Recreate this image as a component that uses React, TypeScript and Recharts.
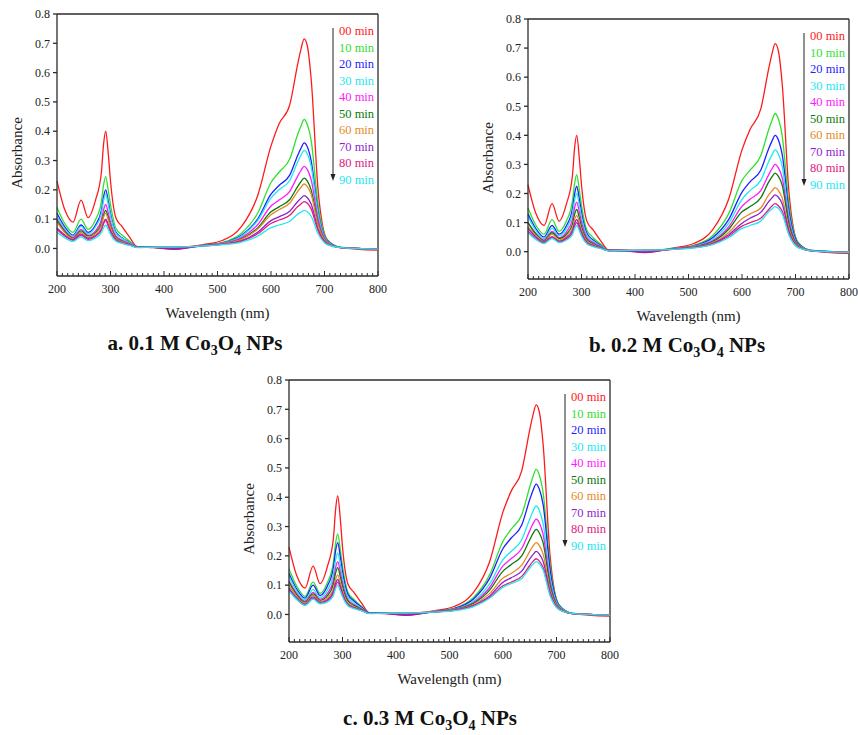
import React from 'react';
import { LineChart, Line, XAxis, YAxis, ReferenceLine } from 'recharts';

const FONT = '"Liberation Serif", "Times New Roman", serif';
const AXIS = '#2b2b2b';

const wavelengths = [200, 215, 230, 245, 258, 272, 283, 287, 291, 296, 300, 310, 322, 335, 350, 380, 420, 470, 510, 545, 575, 600, 615, 635, 650, 656, 662, 668, 675, 688, 705, 730, 800];

const timeLabels = ['00 min', '10 min', '20 min', '30 min', '40 min', '50 min', '60 min', '70 min', '80 min', '90 min'];
const colors = ['#ff1a1a', '#2fe02f', '#1f1fff', '#1ee8f0', '#ff1aff', '#0a7a0a', '#e58a25', '#8f1fd0', '#e0207f', '#26e6f2'];

const yTicks = [0, 0.1, 0.2, 0.3, 0.4, 0.5, 0.6, 0.7, 0.8];
const xTicks = Array.from({ length: 61 }, (_, i) => 200 + i * 10);

// 0.1 M
const seriesA: number[][] = [
  [0.23, 0.13, 0.09, 0.165, 0.105, 0.165, 0.26, 0.355, 0.40, 0.32, 0.23, 0.105, 0.074, 0.04, 0.006, 0.003, -0.003, 0.012, 0.028, 0.075, 0.18, 0.35, 0.425, 0.49, 0.63, 0.68, 0.715, 0.69, 0.58, 0.20, 0.03, 0.003, -0.006],
  [0.14, 0.083, 0.055, 0.10, 0.065, 0.098, 0.16, 0.216, 0.245, 0.196, 0.15, 0.069, 0.045, 0.026, 0.005, 0.004, 0.002, 0.01, 0.021, 0.052, 0.12, 0.225, 0.26, 0.305, 0.39, 0.418, 0.44, 0.422, 0.37, 0.15, 0.03, 0.004, -0.002],
  [0.12, 0.072, 0.045, 0.08, 0.055, 0.08, 0.13, 0.176, 0.20, 0.16, 0.12, 0.056, 0.036, 0.021, 0.005, 0.004, 0.0, 0.01, 0.019, 0.045, 0.10, 0.185, 0.215, 0.25, 0.318, 0.342, 0.36, 0.346, 0.30, 0.125, 0.027, 0.004, -0.002],
  [0.11, 0.066, 0.042, 0.075, 0.05, 0.074, 0.12, 0.163, 0.185, 0.148, 0.112, 0.052, 0.034, 0.02, 0.005, 0.004, 0.003, 0.01, 0.018, 0.042, 0.095, 0.172, 0.20, 0.232, 0.296, 0.318, 0.335, 0.322, 0.28, 0.117, 0.025, 0.004, -0.002],
  [0.10, 0.06, 0.038, 0.065, 0.045, 0.06, 0.098, 0.132, 0.15, 0.12, 0.09, 0.043, 0.028, 0.017, 0.004, 0.004, 0.004, 0.009, 0.017, 0.037, 0.081, 0.145, 0.165, 0.195, 0.247, 0.266, 0.28, 0.269, 0.235, 0.1, 0.022, 0.003, -0.002],
  [0.095, 0.057, 0.035, 0.06, 0.042, 0.054, 0.085, 0.114, 0.13, 0.104, 0.078, 0.038, 0.025, 0.015, 0.004, 0.004, 0.005, 0.009, 0.016, 0.033, 0.07, 0.125, 0.142, 0.167, 0.212, 0.228, 0.24, 0.23, 0.20, 0.087, 0.02, 0.003, -0.002],
  [0.09, 0.053, 0.033, 0.055, 0.038, 0.05, 0.078, 0.106, 0.12, 0.096, 0.072, 0.035, 0.023, 0.014, 0.004, 0.004, 0.004, 0.009, 0.016, 0.031, 0.066, 0.115, 0.132, 0.155, 0.195, 0.209, 0.22, 0.211, 0.185, 0.08, 0.019, 0.003, -0.002],
  [0.07, 0.045, 0.03, 0.05, 0.034, 0.044, 0.066, 0.088, 0.10, 0.08, 0.06, 0.031, 0.02, 0.013, 0.004, 0.004, -0.002, 0.009, 0.015, 0.027, 0.055, 0.095, 0.108, 0.127, 0.16, 0.171, 0.18, 0.173, 0.152, 0.066, 0.016, 0.003, -0.002],
  [0.065, 0.042, 0.028, 0.045, 0.031, 0.042, 0.063, 0.084, 0.095, 0.076, 0.057, 0.029, 0.019, 0.012, 0.004, 0.004, 0.003, 0.008, 0.014, 0.025, 0.05, 0.085, 0.097, 0.113, 0.143, 0.152, 0.16, 0.154, 0.135, 0.06, 0.015, 0.003, -0.002],
  [0.055, 0.036, 0.024, 0.04, 0.027, 0.036, 0.054, 0.07, 0.08, 0.064, 0.048, 0.025, 0.017, 0.011, 0.003, 0.004, 0.005, 0.008, 0.013, 0.022, 0.042, 0.071, 0.08, 0.093, 0.117, 0.124, 0.13, 0.125, 0.11, 0.05, 0.013, 0.003, -0.002],
];

// 0.2 M
const seriesB: number[][] = [
  [0.23, 0.13, 0.09, 0.165, 0.105, 0.165, 0.26, 0.355, 0.40, 0.32, 0.23, 0.105, 0.074, 0.04, 0.006, 0.003, -0.003, 0.012, 0.028, 0.075, 0.18, 0.35, 0.42, 0.49, 0.63, 0.68, 0.715, 0.69, 0.58, 0.20, 0.03, 0.003, -0.006],
  [0.15, 0.09, 0.06, 0.11, 0.07, 0.106, 0.173, 0.233, 0.265, 0.212, 0.16, 0.074, 0.048, 0.027, 0.005, 0.004, 0.002, 0.01, 0.022, 0.055, 0.13, 0.245, 0.28, 0.33, 0.42, 0.451, 0.475, 0.456, 0.40, 0.16, 0.032, 0.004, -0.002],
  [0.13, 0.078, 0.05, 0.09, 0.06, 0.09, 0.146, 0.198, 0.225, 0.18, 0.135, 0.063, 0.04, 0.023, 0.005, 0.004, 0.0, 0.01, 0.02, 0.048, 0.11, 0.205, 0.24, 0.28, 0.355, 0.38, 0.40, 0.384, 0.335, 0.138, 0.028, 0.004, -0.002],
  [0.12, 0.072, 0.045, 0.08, 0.055, 0.08, 0.13, 0.176, 0.20, 0.16, 0.12, 0.056, 0.036, 0.021, 0.005, 0.004, 0.003, 0.01, 0.019, 0.042, 0.097, 0.18, 0.21, 0.245, 0.31, 0.333, 0.35, 0.336, 0.295, 0.12, 0.025, 0.004, -0.002],
  [0.10, 0.062, 0.04, 0.07, 0.048, 0.068, 0.11, 0.15, 0.17, 0.136, 0.102, 0.048, 0.031, 0.018, 0.004, 0.004, 0.004, 0.009, 0.018, 0.037, 0.085, 0.156, 0.18, 0.21, 0.265, 0.285, 0.30, 0.288, 0.255, 0.105, 0.023, 0.003, -0.002],
  [0.10, 0.06, 0.038, 0.065, 0.045, 0.06, 0.094, 0.128, 0.145, 0.116, 0.087, 0.042, 0.027, 0.016, 0.004, 0.004, 0.005, 0.009, 0.017, 0.034, 0.077, 0.137, 0.155, 0.185, 0.24, 0.257, 0.27, 0.259, 0.23, 0.092, 0.021, 0.003, -0.002],
  [0.085, 0.055, 0.035, 0.06, 0.04, 0.053, 0.081, 0.11, 0.125, 0.10, 0.075, 0.037, 0.024, 0.014, 0.004, 0.004, 0.004, 0.009, 0.016, 0.03, 0.066, 0.113, 0.13, 0.15, 0.195, 0.209, 0.22, 0.211, 0.185, 0.078, 0.019, 0.003, -0.002],
  [0.08, 0.05, 0.033, 0.052, 0.036, 0.048, 0.072, 0.097, 0.11, 0.088, 0.066, 0.033, 0.021, 0.013, 0.004, 0.004, -0.002, 0.009, 0.015, 0.028, 0.058, 0.098, 0.115, 0.135, 0.172, 0.185, 0.195, 0.187, 0.165, 0.069, 0.017, 0.003, -0.002],
  [0.07, 0.045, 0.03, 0.048, 0.033, 0.044, 0.065, 0.088, 0.10, 0.08, 0.06, 0.03, 0.019, 0.012, 0.004, 0.004, 0.003, 0.008, 0.014, 0.026, 0.053, 0.088, 0.10, 0.115, 0.145, 0.157, 0.165, 0.158, 0.14, 0.06, 0.015, 0.003, -0.002],
  [0.065, 0.042, 0.028, 0.045, 0.031, 0.04, 0.058, 0.079, 0.09, 0.072, 0.054, 0.027, 0.017, 0.011, 0.003, 0.004, 0.005, 0.008, 0.013, 0.024, 0.048, 0.08, 0.09, 0.105, 0.137, 0.147, 0.155, 0.149, 0.13, 0.056, 0.014, 0.003, -0.002],
];

// 0.3 M
const seriesC: number[][] = [
  [0.23, 0.13, 0.09, 0.165, 0.105, 0.165, 0.26, 0.356, 0.405, 0.324, 0.23, 0.105, 0.074, 0.04, 0.006, 0.003, -0.003, 0.012, 0.028, 0.075, 0.18, 0.35, 0.42, 0.49, 0.63, 0.68, 0.715, 0.69, 0.58, 0.20, 0.03, 0.003, -0.006],
  [0.155, 0.095, 0.062, 0.11, 0.072, 0.11, 0.179, 0.242, 0.275, 0.22, 0.165, 0.077, 0.05, 0.028, 0.005, 0.004, 0.002, 0.01, 0.022, 0.058, 0.135, 0.25, 0.29, 0.34, 0.435, 0.47, 0.495, 0.475, 0.415, 0.168, 0.033, 0.004, -0.002],
  [0.14, 0.085, 0.056, 0.10, 0.065, 0.098, 0.16, 0.216, 0.245, 0.196, 0.147, 0.069, 0.045, 0.026, 0.005, 0.004, 0.0, 0.01, 0.021, 0.053, 0.123, 0.225, 0.26, 0.305, 0.392, 0.423, 0.445, 0.427, 0.375, 0.152, 0.03, 0.004, -0.002],
  [0.13, 0.078, 0.05, 0.085, 0.058, 0.084, 0.137, 0.185, 0.21, 0.168, 0.126, 0.059, 0.038, 0.022, 0.005, 0.004, 0.003, 0.01, 0.019, 0.045, 0.104, 0.187, 0.215, 0.255, 0.326, 0.352, 0.37, 0.355, 0.31, 0.127, 0.027, 0.004, -0.002],
  [0.115, 0.07, 0.045, 0.075, 0.052, 0.072, 0.117, 0.158, 0.18, 0.144, 0.108, 0.051, 0.033, 0.019, 0.004, 0.004, 0.004, 0.009, 0.018, 0.041, 0.092, 0.166, 0.19, 0.225, 0.286, 0.309, 0.325, 0.312, 0.273, 0.112, 0.024, 0.003, -0.002],
  [0.11, 0.066, 0.042, 0.07, 0.048, 0.064, 0.104, 0.141, 0.16, 0.128, 0.096, 0.046, 0.03, 0.018, 0.004, 0.004, 0.005, 0.009, 0.017, 0.038, 0.083, 0.148, 0.17, 0.20, 0.255, 0.276, 0.29, 0.278, 0.244, 0.1, 0.022, 0.003, -0.002],
  [0.10, 0.06, 0.038, 0.065, 0.044, 0.056, 0.088, 0.119, 0.135, 0.108, 0.081, 0.039, 0.026, 0.016, 0.004, 0.004, 0.004, 0.009, 0.016, 0.034, 0.071, 0.124, 0.14, 0.168, 0.215, 0.233, 0.245, 0.235, 0.206, 0.086, 0.02, 0.003, -0.002],
  [0.09, 0.055, 0.035, 0.06, 0.041, 0.05, 0.078, 0.106, 0.12, 0.096, 0.072, 0.035, 0.023, 0.015, 0.004, 0.004, -0.002, 0.009, 0.015, 0.031, 0.063, 0.11, 0.125, 0.148, 0.19, 0.204, 0.215, 0.206, 0.181, 0.076, 0.018, 0.003, -0.002],
  [0.085, 0.052, 0.033, 0.055, 0.038, 0.047, 0.072, 0.097, 0.11, 0.088, 0.066, 0.032, 0.021, 0.014, 0.004, 0.004, 0.003, 0.008, 0.014, 0.029, 0.058, 0.098, 0.11, 0.13, 0.167, 0.181, 0.19, 0.182, 0.16, 0.068, 0.017, 0.003, -0.002],
  [0.08, 0.05, 0.031, 0.052, 0.036, 0.043, 0.065, 0.088, 0.10, 0.08, 0.06, 0.03, 0.02, 0.013, 0.003, 0.004, 0.005, 0.008, 0.013, 0.027, 0.055, 0.093, 0.105, 0.123, 0.158, 0.171, 0.18, 0.173, 0.151, 0.064, 0.016, 0.003, -0.002],
];

const toRows = (series: number[][]) =>
  wavelengths.map((w, i) => {
    const row: any = { w };
    series.forEach((s, k) => { row[`s${k}`] = s[i]; });
    return row;
  });

const XTick = (props: any) => {
  const { x, y, payload } = props;
  const major = payload.value % 100 === 0;
  return (
    <g>
      <line x1={x} x2={x} y1={y} y2={y - (major ? 5 : 3)} stroke={AXIS} strokeWidth={1} />
      {major && (
        <text x={x} y={y + 17} textAnchor="middle" fontFamily={FONT} fontSize={12} fill="#222">
          {payload.value}
        </text>
      )}
    </g>
  );
};

// arrow plus coloured time labels, top-right inside the plot
const LegendBox = ({ left, top }: { left: number; top: number }) => (
  <div style={{ position: 'absolute', left, top, width: 50, height: 160, fontFamily: FONT, fontSize: 12.5 }}>
    <svg width={8} height={160} style={{ position: 'absolute', left: 0, top: 0 }}>
      <line x1={3} x2={3} y1={4} y2={152} stroke="#222" strokeWidth={1} />
      <polygon points="0.5,150 5.5,150 3,157" fill="#222" />
    </svg>
    {timeLabels.map((t, i) => (
      <div
        key={t}
        style={{ position: 'absolute', left: 9, top: i * 16.5 - 1, color: colors[i], whiteSpace: 'nowrap', lineHeight: '16px' }}
      >
        {t}
      </div>
    ))}
  </div>
);

interface PanelProps {
  left: number;
  top: number;
  plotH: number;
  series: number[][];
  caption: string;
  captionX: number;
  captionY: number;
}

const Panel = ({ left, top, plotH, series, caption, captionX, captionY }: PanelProps) => {
  const data = toRows(series);
  const m = { left: 56, top: 14, right: 22, bottom: 53 };
  const plotW = 321;
  const W = m.left + 1 + plotW + m.right;
  const H = m.top + plotH + 1 + m.bottom;
  const pl = m.left + 1; // plot left inside wrapper
  return (
    <>
      <div style={{ position: 'absolute', left: left - pl, top: top - m.top, width: W, height: H }}>
        <LineChart width={W} height={H} data={data} margin={m}>
          <XAxis
            type="number"
            dataKey="w"
            domain={[200, 800]}
            ticks={xTicks}
            interval={0}
            height={1}
            tickSize={0}
            tickMargin={0}
            tick={<XTick />}
            tickLine={false}
            stroke={AXIS}
            strokeWidth={1.3}
          />
          <YAxis
            type="number"
            domain={[-0.094, 0.8]}
            allowDataOverflow
            ticks={yTicks}
            interval={0}
            width={1}
            tickSize={4}
            tickMargin={3}
            tickFormatter={(v: number) => v.toFixed(1)}
            tick={{ fontFamily: FONT, fontSize: 12, fill: '#222' }}
            stroke={AXIS}
            strokeWidth={1.3}
          />
          <ReferenceLine y={0.8} stroke={AXIS} strokeWidth={1.3} />
          <ReferenceLine x={800} stroke={AXIS} strokeWidth={1.3} />
          {series.map((_, k) => (
            <Line
              key={k}
              type="monotone"
              dataKey={`s${k}`}
              name={timeLabels[k]}
              stroke={colors[k]}
              strokeWidth={1.3}
              dot={false}
              isAnimationActive={false}
            />
          ))}
        </LineChart>
        <LegendBox left={pl + 273} top={m.top + 10} />
        <div
          style={{
            position: 'absolute', left: pl - 40 - 50, top: m.top + 139 - 10, width: 100, height: 20,
            transform: 'rotate(-90deg)', textAlign: 'center', fontFamily: FONT, fontSize: 15, lineHeight: '20px', color: '#222',
          }}
        >
          Absorbance
        </div>
        <div
          style={{
            position: 'absolute', left: pl, top: m.top + plotH + 27, width: plotW, textAlign: 'center',
            fontFamily: FONT, fontSize: 15, lineHeight: '20px', color: '#222',
          }}
        >
          Wavelength (nm)
        </div>
      </div>
      <div
        style={{
          position: 'absolute', left: captionX - 150, top: captionY - 13, width: 300, textAlign: 'center',
          fontFamily: FONT, fontWeight: 'bold', fontSize: 21, lineHeight: '26px', color: '#111',
        }}
      >
        {caption.split('|').map((part, i) => (i % 2 === 1 ? <sub key={i} style={{ fontSize: 14, lineHeight: 0 }}>{part}</sub> : <span key={i}>{part}</span>))}
      </div>
    </>
  );
};

export default function App() {
  return (
    <div style={{ position: 'absolute', left: 0, top: 0, width: 858, height: 735, background: '#fff', overflow: 'hidden' }}>
      <Panel left={57} top={14} plotH={262} series={seriesA} caption="a. 0.1 M Co|3|O|4| NPs" captionX={195} captionY={343} />
      <Panel left={528} top={19} plotH={260} series={seriesB} caption="b. 0.2 M Co|3|O|4| NPs" captionX={677} captionY={345} />
      <Panel left={289} top={380} plotH={262} series={seriesC} caption="c. 0.3 M Co|3|O|4| NPs" captionX={430} captionY={718} />
    </div>
  );
}
